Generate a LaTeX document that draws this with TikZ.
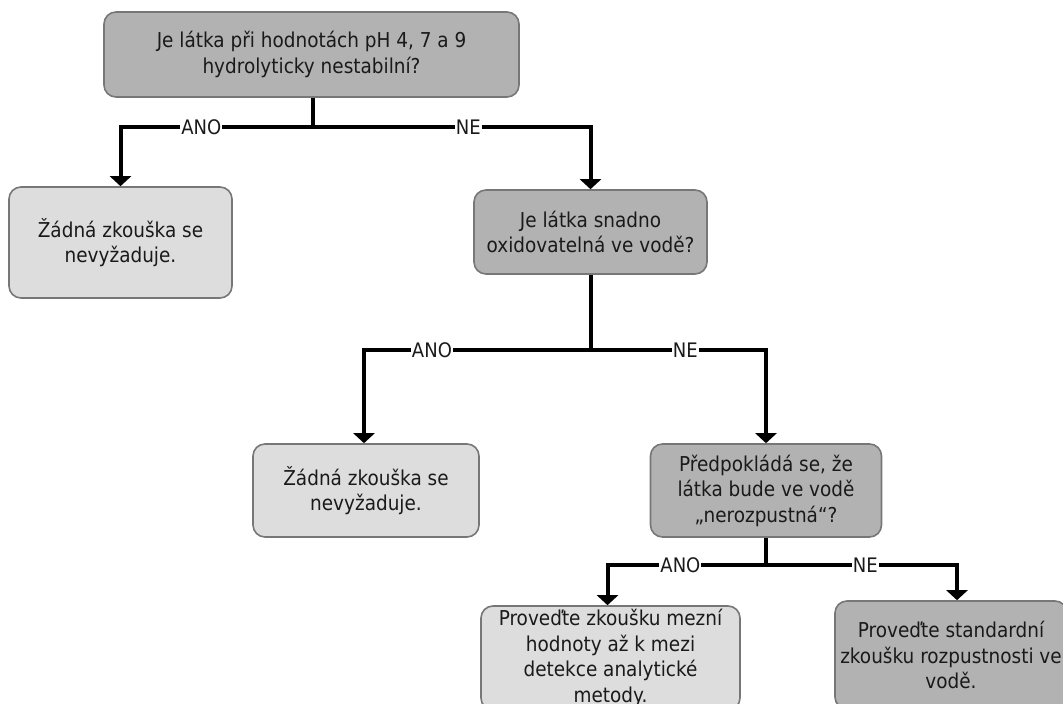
\documentclass[tikz,border=0pt]{standalone}
\usepackage{fontspec}
\setmainfont{DejaVu Sans}[FakeStretch=0.9]
\usetikzlibrary{arrows.meta}
\definecolor{boxdark}{HTML}{B2B2B2}
\definecolor{boxlight}{HTML}{DDDDDD}
\definecolor{boxedge}{HTML}{777777}
\definecolor{txt}{HTML}{1A1A1A}
\begin{document}
\begin{tikzpicture}[x=1pt,y=-1pt,
  box/.style={draw=boxedge, line width=1.6pt, rounded corners=12pt,
    align=center, inner sep=0pt, text=txt,
    font=\fontsize{20.5}{25.5}\selectfont},
  dark/.style={box, fill=boxdark},
  light/.style={box, fill=boxlight},
  conn/.style={line width=4pt},
  arr/.style={conn, -{Triangle[width=21pt,length=10pt]}},
  lbl/.style={fill=white, inner xsep=1pt, inner ysep=0pt, text=txt,
    font=\fontsize{20}{20}\selectfont}
]
\useasboundingbox (0,0) rectangle (1063,704);
\clip (0,0) rectangle (1063,704);

% decision and result boxes
\node[dark, minimum width=415pt, minimum height=85pt] (q1) at (311.5,54.5)
  {Je látka při hodnotách pH 4, 7 a 9\\hydrolyticky nestabilní?};
\node[light, minimum width=223pt, minimum height=111pt] (r1) at (120.5,242.5)
  {Žádná zkouška se\\nevyžaduje.};
\node[dark, minimum width=233pt, minimum height=84pt] (q2) at (590.5,232)
  {Je látka snadno\\oxidovatelná ve vodě?};
\node[light, minimum width=226pt, minimum height=93pt] (r2) at (366,490.5)
  {Žádná zkouška se\\nevyžaduje.};
\node[dark, minimum width=231pt, minimum height=93pt] (q3) at (766,490.5)
  {Předpokládá se, že\\látka bude ve vodě\\„nerozpustná“?};
\node[light, minimum width=259pt, minimum height=104pt] (r3) at (610.5,658)
  {Proveďte zkoušku mezní\\hodnoty až k mezi\\detekce analytické\\metody.};
\node[dark, minimum width=232pt, minimum height=108pt] (r4) at (951,655)
  {Proveďte standardní\\zkoušku rozpustnosti ve\\vodě.};

% branching points below each question
\coordinate (j1) at (313,127);
\coordinate (j2) at (590.5,350);
\coordinate (j3) at (766,565);

% connectors
\draw[conn] (q1.south -| j1) -- (j1);
\draw[arr] (j1) -| node[lbl, pos=0.29] {ANO} (r1.north);
\draw[arr] (j1) -| node[lbl, pos=0.28] {NE} (q2.north);

\draw[conn] (q2.south) -- (j2);
\draw[arr] (j2) -| node[lbl, pos=0.35] {ANO} ([xshift=-2pt]r2.north);
\draw[arr] (j2) -| node[lbl, pos=0.27] {NE} (q3.north);

\draw[conn] (q3.south) -- (j3);
\draw[arr] (j3) -| node[lbl, pos=0.27] {ANO} ([xshift=-3pt]r3.north);
\draw[arr] (j3) -| node[lbl, pos=0.26] {NE} ([xshift=6pt]r4.north);
\end{tikzpicture}
\end{document}
